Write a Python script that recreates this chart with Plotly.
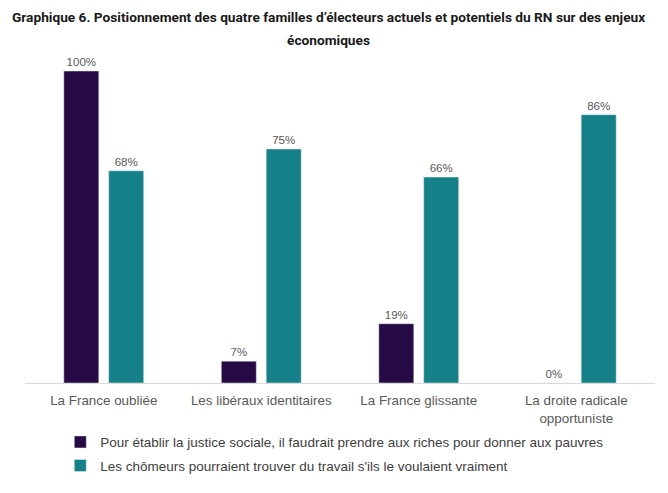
import plotly.graph_objects as go

categories = ["La France oubliée", "Les libéraux identitaires", "La France glissante",
              "La droite radicale<br>opportuniste"]
justice_sociale = [100, 7, 19, 0]
chomeurs = [68, 75, 66, 86]
series_names = ["Pour établir la justice sociale, il faudrait prendre aux riches pour donner aux pauvres",
                "Les chômeurs pourraient trouver du travail s'ils le voulaient vraiment"]
title_lines = ["Graphique 6. Positionnement des quatre familles d’électeurs actuels et potentiels du RN sur des enjeux",
               "économiques"]

fig = go.Figure()
fig.add_trace(go.Bar(x=categories, y=justice_sociale, name=series_names[0],
                     marker_color="#250a45", legendgroup="a",
                     text=[f"{v}%" for v in justice_sociale], textposition="outside",
                     textfont=dict(size=11.5, color="#595959"), cliponaxis=False))
fig.add_trace(go.Bar(x=categories, y=chomeurs, name=series_names[1],
                     marker_color="#158088", legendgroup="b",
                     text=[f"{v}%" for v in chomeurs], textposition="outside",
                     textfont=dict(size=11.5, color="#595959"), cliponaxis=False))

for line, ypos in zip(title_lines, [1.173, 1.1]):
    fig.add_annotation(text=line, xref="paper", yref="paper", x=0.481, y=ypos,
                       xanchor="center", yanchor="middle", showarrow=False,
                       font=dict(family="Roboto, sans-serif", size=13.7,
                                 color="#1a1a1a", weight="bold"))

fig.update_layout(
    width=660, height=485,
    paper_bgcolor="white", plot_bgcolor="white",
    font=dict(family="Liberation Sans, Arial, sans-serif", color="#595959", size=13),
    barmode="group", bargap=0.43, bargroupgap=0.22,
    margin=dict(l=17, r=13, t=63, b=110, autoexpand=False),
    showlegend=True,
    legend=dict(orientation="v", x=0.056, xanchor="left", y=-0.14, yanchor="top",
                font=dict(size=13.5, color="#404040"), tracegroupgap=3),
)
fig.update_xaxes(showline=True, linecolor="#d9d9d9", linewidth=1, ticks="",
                 ticklabelstandoff=5, tickfont=dict(size=13.4, color="#595959"))
fig.update_yaxes(range=[0, 100], visible=False, showgrid=False)

fig.write_html("out.html")
